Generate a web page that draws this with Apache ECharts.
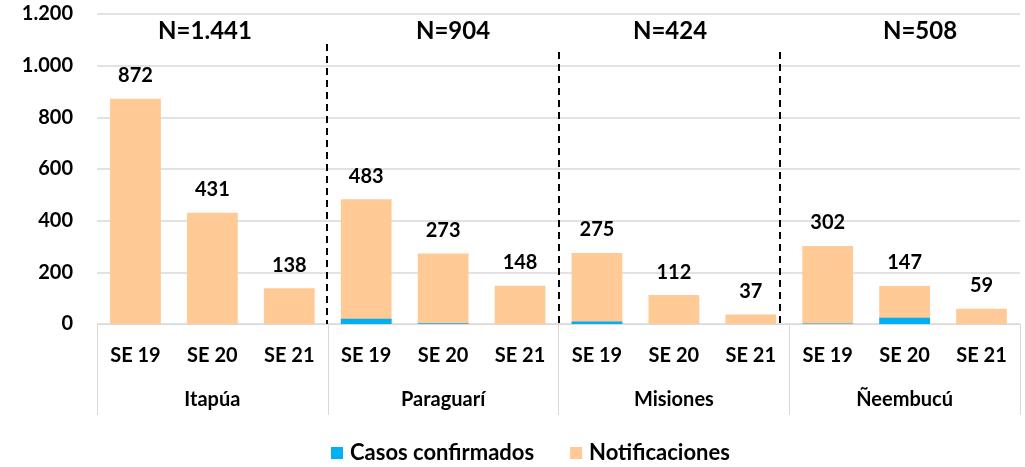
<!DOCTYPE html>
<html><head><meta charset="utf-8">
<script src="https://cdn.jsdelivr.net/npm/echarts@6/dist/echarts.min.js"></script>
<style>html,body{margin:0;padding:0;background:#fff}#c{width:1025px;height:467px}</style>
</head><body><div id="c"></div>
<script>
const weeks = ['SE 19','SE 20','SE 21','SE 19','SE 20','SE 21','SE 19','SE 20','SE 21','SE 19','SE 20','SE 21'];
const departments = ['Itapúa','Paraguarí','Misiones','Ñeembucú'];
const groupTotals = ['N=1.441','N=904','N=424','N=508'];
const notificaciones = [872,431,138,483,273,148,275,112,37,302,147,59];
const confirmados = [0,0,0,20,3,0,10,0,0,2,24,0];
const yTicks = [0,200,400,600,800,1000,1200];

const FONT = 'Lato, "Open Sans", "Noto Sans", sans-serif';
const fmt = v => String(v).replace(/\B(?=(\d{3})+(?!\d))/g, '.');

const chart = echarts.init(document.getElementById('c'));
const nPos = [205, 453, 670, 920];
const dashX = [[327,44],[559,52],[780,52]];
const graphics = [];
groupTotals.forEach((t,i)=>graphics.push({type:'text', x: nPos[i], y: 31, style:{text:t, font:'bold 24px '+FONT, fill:'#000', textAlign:'center', textVerticalAlign:'middle'}, z:10}));
dashX.forEach(d=>graphics.push({type:'line', shape:{x1:d[0],y1:d[1],x2:d[0],y2:324}, style:{stroke:'#000', lineWidth:2, lineDash:[7,5]}, z:10}));

chart.setOption({
  animation:false,
  textStyle:{fontFamily:FONT},
  grid:{left:97, right:5, top:14, bottom:143},
  legend:{bottom:-2, left:326, itemWidth:12, itemHeight:12, itemGap:36, icon:'rect',
    textStyle:{fontFamily:FONT, fontWeight:'bold', fontSize:22, color:'#000', padding:[0,0,0,2]},
    data:['Casos confirmados','Notificaciones']},
  xAxis:[
    {type:'category', data:weeks, position:'bottom',
     axisLine:{lineStyle:{color:'#d9d9d9', width:1}}, axisTick:{show:false},
     axisLabel:{margin:22, color:'#000', fontWeight:'bold', fontSize:20, fontFamily:FONT, interval:0}},
    {type:'category', data:departments, position:'bottom',
     axisLine:{show:false}, axisTick:{show:true, length:91, lineStyle:{color:'#d9d9d9'}},
     axisLabel:{margin:66, color:'#000', fontWeight:'bold', fontSize:20, fontFamily:FONT, interval:0}}
  ],
  yAxis:{type:'value', min:0, max:1200, interval:200,
    axisLine:{show:false}, axisTick:{show:false},
    splitLine:{lineStyle:{color:'#d9d9d9', width:1.5}},
    axisLabel:{margin:24, color:'#000', fontWeight:'bold', fontSize:20, fontFamily:FONT, formatter:v=>fmt(v)}},
  series:[
    {name:'Notificaciones', type:'bar', data:notificaciones, barWidth:'66%', barGap:'-100%',
     itemStyle:{color:'#FFCA95'},
     label:{show:true, position:'top', distance:13, color:'#000', fontWeight:'bold', fontSize:20, fontFamily:FONT, formatter:p=>fmt(p.value)}},
    {name:'Casos confirmados', type:'bar', data:confirmados, barWidth:'66%', barGap:'-100%',
     itemStyle:{color:'#00B0F0'}, z:3}
  ],
  graphic:graphics
});
</script></body></html>
